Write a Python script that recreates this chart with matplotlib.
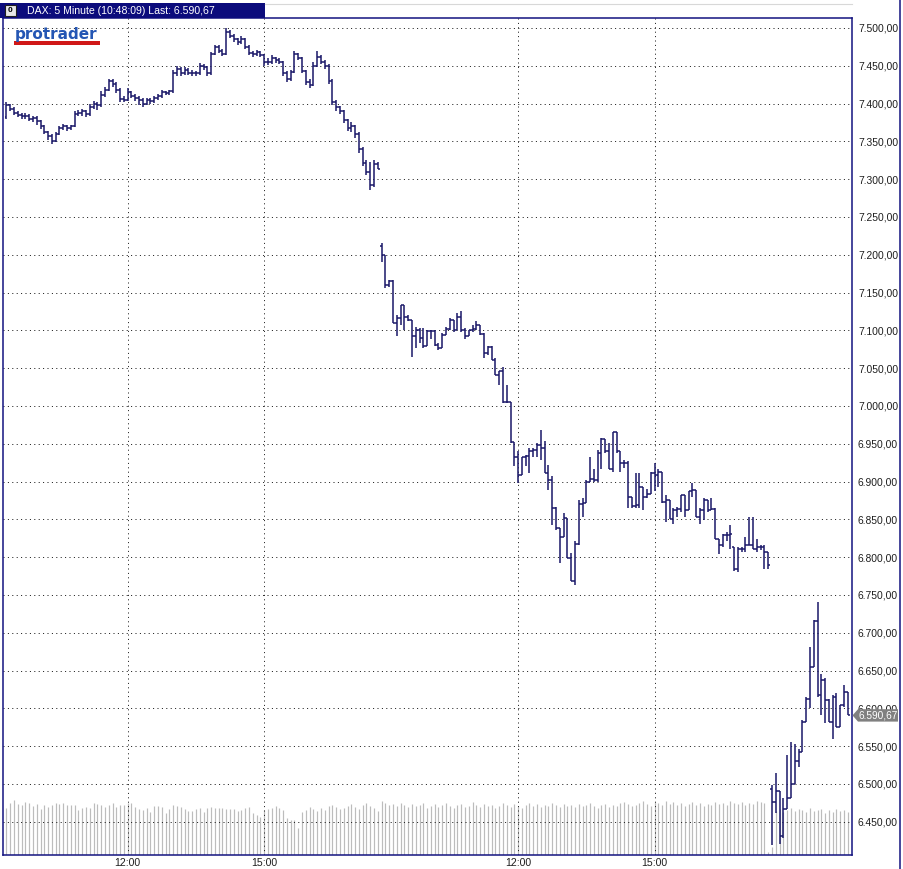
import matplotlib
matplotlib.use("Agg")
import matplotlib.pyplot as plt
from matplotlib.lines import Line2D
from matplotlib.patches import Rectangle, Polygon
from matplotlib.transforms import blended_transform_factory

# ---------------- data (5-minute OHLC bars, three sessions) ----------------
opens = [
    # day 1
    7382,7398,7393,7388,7385,7383,7384,7380,7381,7377,
    7370,7362,7357,7350,7360,7368,7370,7368,7370,7386,
    7388,7390,7386,7396,7400,7398,7412,7418,7430,7426,
    7418,7406,7405,7415,7410,7408,7405,7400,7405,7403,
    7407,7410,7415,7414,7416,7440,7446,7440,7445,7441,
    7440,7440,7450,7448,7440,7466,7475,7470,7466,7495,
    7490,7485,7482,7485,7475,7467,7465,7468,7464,7455,
    7455,7460,7458,7455,7440,7432,7442,7465,7460,7443,
    7428,7425,7450,7462,7455,7450,7430,7402,7395,7390,
    7378,7368,7370,7360,7340,7322,7310,7292,7320,
    # day 2
    7212,7200,7160,7165,7110,7116,7134,7118,7114,7092,
    7100,7090,7079,7099,7099,7081,7077,7094,7102,7114,
    7100,7118,7100,7092,7100,7102,7107,7095,7070,7078,
    7061,7041,7046,7005,7005,6952,6933,6909,6933,6934,
    6940,6942,6949,6944,6911,6902,6865,6838,6827,6852,
    6799,6768,6818,6870,6871,6900,6903,6902,6938,6956,
    6940,6916,6965,6940,6925,6925,6879,6868,6869,6893,
    6880,6884,6911,6909,6913,6873,6876,6851,6862,6864,
    6882,6862,6887,6889,6853,6862,6876,6862,6864,6824,
    6816,6829,6829,6813,6784,6811,6811,6816,6816,6811,
    6813,6813,6807,
    # day 3
    6493,6476,6490,6431,6467,6482,6500,6531,6542,6582,
    6613,6655,6715,6617,6637,6611,6582,6615,6575,6604,6622,
]
highs = [
    7402,7400,7395,7390,7388,7387,7386,7384,7383,7378,
    7372,7364,7360,7362,7370,7373,7372,7372,7390,7392,
    7393,7392,7400,7404,7402,7416,7422,7433,7432,7428,
    7420,7410,7420,7417,7413,7410,7407,7408,7407,7410,
    7413,7418,7417,7418,7444,7450,7448,7448,7447,7444,
    7443,7454,7453,7450,7468,7478,7477,7472,7500,7497,
    7492,7487,7490,7487,7477,7470,7471,7470,7466,7460,
    7464,7462,7460,7456,7443,7445,7470,7467,7462,7445,
    7432,7455,7470,7464,7457,7452,7432,7405,7397,7392,
    7380,7376,7372,7362,7342,7325,7323,7326,7323,
    7216,7200,7167,7167,7120,7134,7134,7120,7114,7105,
    7103,7103,7100,7100,7100,7083,7096,7105,7116,7114,
    7123,7125,7103,7100,7107,7112,7107,7096,7079,7079,
    7063,7046,7052,7028,7005,6952,6940,6933,6935,6944,
    6944,6951,6968,6953,6922,6907,6867,6838,6858,6852,
    6805,6822,6876,6878,6902,6933,6916,6942,6958,6956,
    6951,6966,6965,6940,6928,6927,6880,6911,6911,6893,
    6890,6913,6925,6916,6913,6882,6876,6865,6867,6882,
    6882,6887,6898,6889,6865,6878,6876,6878,6865,6824,
    6831,6833,6842,6813,6813,6813,6827,6853,6853,6824,
    6816,6816,6807,
    6499,6515,6491,6482,6538,6555,6553,6546,6584,6615,
    6681,6717,6741,6646,6640,6613,6617,6620,6604,6631,6622,
]
lows = [
    7380,7390,7385,7382,7380,7379,7377,7376,7372,7366,
    7360,7352,7346,7349,7358,7365,7364,7365,7369,7383,
    7384,7382,7384,7393,7392,7396,7409,7416,7422,7414,
    7402,7402,7403,7407,7404,7398,7396,7398,7399,7401,
    7405,7408,7411,7412,7414,7437,7437,7438,7438,7436,
    7436,7438,7444,7437,7438,7464,7467,7463,7464,7487,
    7482,7478,7479,7472,7464,7462,7463,7461,7450,7451,
    7453,7454,7452,7436,7429,7430,7440,7457,7440,7424,
    7420,7423,7448,7452,7446,7426,7398,7390,7386,7374,
    7364,7362,7355,7335,7318,7305,7286,7290,7313,
    7190,7156,7158,7110,7092,7107,7100,7112,7065,7077,
    7083,7077,7079,7088,7079,7074,7077,7094,7100,7098,
    7100,7098,7088,7092,7098,7100,7094,7063,7068,7061,
    7041,7028,7004,7004,6951,6920,6898,6909,6920,6911,
    6933,6933,6929,6911,6889,6843,6836,6792,6827,6799,
    6768,6763,6816,6853,6871,6900,6900,6900,6916,6938,
    6916,6913,6938,6913,6918,6865,6865,6865,6865,6862,
    6878,6884,6887,6893,6871,6847,6851,6844,6853,6860,
    6853,6862,6880,6853,6844,6849,6860,6862,6824,6804,
    6813,6822,6811,6782,6780,6807,6807,6816,6811,6807,
    6810,6784,6784,
    6419,6462,6420,6428,6467,6482,6500,6522,6542,6582,
    6600,6655,6615,6591,6580,6582,6560,6575,6575,6602,6591,
]
closes = [
    7398,7393,7388,7385,7383,7384,7380,7381,7377,7370,
    7362,7357,7350,7360,7368,7370,7368,7370,7386,7388,
    7390,7386,7396,7400,7398,7412,7418,7430,7426,7418,
    7406,7405,7415,7410,7408,7405,7400,7405,7403,7407,
    7410,7415,7414,7416,7440,7446,7440,7445,7441,7440,
    7440,7450,7448,7440,7466,7475,7470,7466,7495,7490,
    7485,7482,7485,7475,7467,7465,7468,7464,7455,7455,
    7460,7458,7455,7440,7432,7442,7465,7460,7443,7428,
    7425,7450,7462,7455,7450,7430,7402,7395,7390,7378,
    7368,7370,7360,7340,7322,7310,7292,7320,7314,
    7200,7160,7165,7110,7116,7134,7118,7114,7092,7100,
    7090,7079,7099,7099,7081,7077,7094,7102,7114,7100,
    7118,7100,7092,7100,7102,7107,7095,7070,7078,7061,
    7041,7046,7005,7005,6952,6933,6909,6933,6934,6940,
    6942,6949,6944,6911,6902,6865,6838,6827,6852,6799,
    6768,6818,6870,6871,6900,6903,6902,6938,6956,6940,
    6916,6965,6940,6925,6925,6879,6868,6869,6893,6880,
    6884,6911,6909,6913,6873,6876,6851,6862,6864,6882,
    6862,6887,6889,6853,6862,6876,6862,6864,6824,6816,
    6829,6829,6831,6784,6811,6811,6816,6816,6811,6813,
    6813,6807,6790,
    6476,6490,6431,6467,6482,6500,6531,6542,6582,6613,
    6655,6715,6617,6637,6611,6582,6615,6575,6604,6622,6590.67,
]
volumes = [
    4670,5170,5500,5100,5000,5330,5230,4900,5100,4570,
    5000,4830,5000,5230,5100,5170,5000,5000,5000,4500,
    4670,4770,4670,5170,5100,5000,4830,5000,5170,4830,
    5000,5000,5170,5170,4830,4570,4500,4670,4330,4900,
    4900,4770,4170,4570,5000,4900,4830,4570,4430,4430,
    4570,4670,4330,4670,4830,4670,4670,4670,4570,4570,
    4570,4430,4500,4670,4770,4170,4000,3830,4500,4570,
    4670,4900,4670,4500,3670,3500,3500,2670,
    4300,4500,4800,4600,4400,4700,4500,4900,5000,4800,
    4600,4700,4900,5100,4800,4600,5000,5200,4900,4700,4400,
    5400,5200,5000,5100,4900,5200,5000,4800,5100,4900,
    5000,5200,4700,4900,5100,4800,5000,5200,4900,4700,
    5000,5100,4800,4900,5300,5000,4800,5100,4900,5000,
    4700,4900,5200,5000,4800,5100,4900,4700,5000,5200,
    4900,5100,4800,5000,4900,5200,5000,4800,5100,4900,
    5000,4800,5100,4900,5000,5200,4900,4700,5000,5100,
    4800,5000,4900,5200,5300,5100,4900,5000,5200,5400,
    5100,4900,5300,5200,5000,5400,5100,5300,5000,5200,
    4900,5100,5300,5000,5200,4900,5100,5000,5300,5100,
    5200,5000,5400,5200,5100,5300,5000,5200,5100,5400,
    5300,5200,300,
    800,4400,4600,4300,4500,4700,4400,4600,4500,4300,
    4700,4400,4500,4600,4200,4500,4300,4600,4400,4500,4300,
]
price_ticks = [6450, 6500, 6550, 6600, 6650, 6700, 6750, 6800, 6850, 6900,
               6950, 7000, 7050, 7100, 7150, 7200, 7250, 7300, 7350, 7400,
               7450, 7500]
time_tick_bars = [32, 68, 135, 171]
time_tick_labels = ["12:00", "15:00", "12:00", "15:00"]
title_text = "DAX: 5 Minute (10:48:09) Last: 6.590,67"
last_price = 6590.67

# ---------------- styling ----------------
W, H = 904, 869
NAVY = "#1a1868"
FRAME = "#141480"
FONT = "Liberation Sans"

def fx(px):
    return px / W

def fy(py):
    return 1 - py / H

def de_fmt(v):
    s = f"{v:,.2f}"
    return s.replace(",", "X").replace(".", ",").replace("X", ".")

fig = plt.figure(figsize=(W / 100, H / 100), dpi=100)
fig.patch.set_facecolor("white")

L, R, T, B = 3, 852, 18, 855
ax = fig.add_axes([fx(L), fy(B), (R - L) / W, (B - T) / H])
ax.set_facecolor("white")
ax.set_xlim(-0.9, 223.1)
ax.set_ylim(6406.0, 7513.2)

n = len(closes)
idx = list(range(n))

# volume (bottom strip, scaled in axes fraction)
VSCALE = 83700.0
ax.vlines(idx, 0, [v / VSCALE for v in volumes], transform=ax.get_xaxis_transform(),
          color="#bcbcbc", linewidth=0.85, zorder=1)

# grid
for yv in price_ticks:
    ax.axhline(yv, color="#1a1a1a", linewidth=0.72, linestyle=(0, (1, 3.4)), zorder=2)
for xv in time_tick_bars:
    ax.axvline(xv, color="#1a1a1a", linewidth=0.72, linestyle=(0, (1, 3.4)), zorder=2)

# OHLC bars
lw = 1.1
ax.vlines(idx, lows, highs, color=NAVY, linewidth=lw, zorder=3)
ax.hlines(opens, [i - 0.5 for i in idx], idx, color=NAVY, linewidth=lw, zorder=3)
ax.hlines(closes, idx, [i + 0.5 for i in idx], color=NAVY, linewidth=lw, zorder=3)

# axes / ticks
for sp in ax.spines.values():
    sp.set_color(FRAME)
    sp.set_linewidth(1.1)
ax.yaxis.tick_right()
ax.set_yticks(price_ticks)
ax.set_yticklabels([de_fmt(v) for v in price_ticks])
ax.set_xticks(time_tick_bars)
ax.set_xticklabels(time_tick_labels)
ax.tick_params(axis="y", length=0, pad=4.3, labelsize=7.4, labelcolor="#1e1e1e")
ax.tick_params(axis="x", length=0, pad=2.0, labelsize=7.6, labelcolor="#1e1e1e")
for lab in ax.get_xticklabels() + ax.get_yticklabels():
    lab.set_fontfamily(FONT)

# last price marker
tr = blended_transform_factory(fig.transFigure, ax.transData)
hh = 6.2 * 1.3228
poly = Polygon([(fx(852.5), last_price), (fx(858), last_price + hh), (fx(898), last_price + hh),
                (fx(898), last_price - hh), (fx(858), last_price - hh)],
               closed=True, transform=tr, facecolor="#808080", edgecolor="none",
               clip_on=False, zorder=10)
ax.add_patch(poly)
ax.text(fx(858.5), last_price, de_fmt(last_price), transform=tr, color="white",
        fontsize=7.3, fontfamily=FONT, va="center", ha="left", clip_on=False, zorder=11)

# right frame line
fig.add_artist(Line2D([fx(900), fx(900)], [0, 1], color=FRAME, linewidth=1.1))

# title bar
fig.add_artist(Line2D([fx(265), fx(852)], [fy(3.5), fy(3.5)], color="#d8d8d8", linewidth=0.8))
fig.add_artist(Rectangle((0, fy(18)), fx(265), (18 - 3) / H, transform=fig.transFigure,
                         facecolor="#0c0c7c", edgecolor="none"))
fig.add_artist(Rectangle((fx(5), fy(16)), fx(11), 11 / H, transform=fig.transFigure,
                         facecolor="#e8e8e8", edgecolor="#202020", linewidth=0.8))
fig.text(fx(10.5), fy(10.5), "0", color="black", fontsize=6, fontweight="bold",
         fontfamily=FONT, ha="center", va="center")
fig.text(fx(27), fy(11), title_text, color="white", fontsize=7.6, fontfamily=FONT,
         ha="left", va="center")

# logo
fig.add_artist(Rectangle((fx(14), fy(44.5)), fx(86), 3.2 / H, transform=fig.transFigure,
                         facecolor="#d01818", edgecolor="none"))
fig.text(fx(14.5), fy(38.5), "protrader", color="#2456b4", fontsize=11,
         fontweight="bold", fontfamily="DejaVu Sans", ha="left", va="baseline")

fig.savefig("out.png", dpi=100)
